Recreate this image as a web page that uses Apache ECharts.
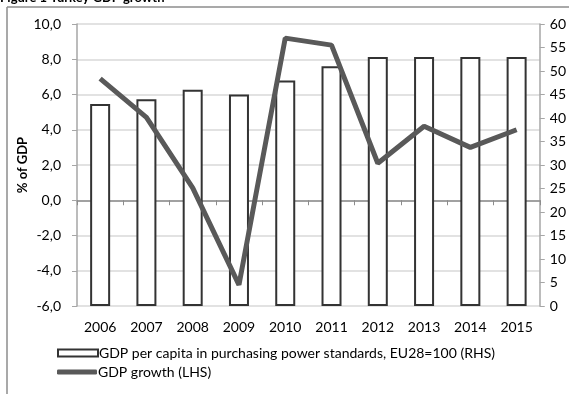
<!DOCTYPE html>
<html>
<head>
<meta charset="utf-8">
<script src="https://cdn.jsdelivr.net/npm/echarts@6/dist/echarts.min.js"></script>
<style>
  html, body { margin: 0; padding: 0; background: #fff; }
  #chart { width: 569px; height: 394px; }
</style>
</head>
<body>
<div id="chart"></div>
<script>
// Turkey: GDP growth and GDP per capita in PPS
const years = ['2006', '2007', '2008', '2009', '2010', '2011', '2012', '2013', '2014', '2015'];
const gdpPerCapitaPPS = [43, 44, 46, 45, 48, 51, 53, 53, 53, 53];   // EU28 = 100 (right axis)
const gdpGrowth = [6.9, 4.7, 0.7, -4.8, 9.2, 8.8, 2.1, 4.2, 3.0, 4.0]; // % (left axis)

const barName = 'GDP per capita in purchasing power standards, EU28=100 (RHS)';
const lineName = 'GDP growth (LHS)';

const FONT = 'Lato, "Open Sans", sans-serif';
const fmtComma = v => v.toFixed(1).replace('.', ',');

const chart = echarts.init(document.getElementById('chart'), null, { renderer: 'canvas' });

chart.setOption({
  animation: false,
  textStyle: { fontFamily: FONT },
  grid: { left: 77, right: 23, top: 24, bottom: 88, containLabel: false },
  xAxis: [
    {
      type: 'category',
      data: years,
      position: 'bottom',
      axisLine: { show: false, onZero: false },
      axisTick: { show: false },
      axisLabel: { color: '#000', fontSize: 14, fontFamily: FONT, margin: 14 }
    },
    {
      type: 'category',
      data: years,
      position: 'bottom',
      axisLine: { show: true, onZero: true, onZeroAxisIndex: 0, lineStyle: { color: '#8c8c8c', width: 1.5 } },
      axisTick: { show: true, length: 5, lineStyle: { color: '#8c8c8c' } },
      axisLabel: { show: false }
    }
  ],
  yAxis: [
    {
      type: 'value',
      min: -6, max: 10, interval: 2,
      name: '% of GDP',
      nameLocation: 'middle',
      nameGap: 48,
      nameMoveOverlap: false,
      nameRotate: 90,
      nameTextStyle: { fontWeight: 'bold', fontSize: 13, color: '#000', fontFamily: FONT },
      axisLine: { show: true, lineStyle: { color: '#a6a6a6', width: 1.5 } },
      axisTick: { show: true, length: 5, lineStyle: { color: '#a6a6a6' } },
      axisLabel: { color: '#000', fontSize: 14, margin: 16, formatter: fmtComma, fontFamily: FONT },
      splitLine: { show: true, lineStyle: { color: '#d9d9d9', width: 1.5 } }
    },
    {
      type: 'value',
      min: 0, max: 60, interval: 5,
      position: 'right',
      axisLine: { show: true, lineStyle: { color: '#a6a6a6', width: 1.5 } },
      axisTick: { show: true, length: 5, lineStyle: { color: '#a6a6a6' } },
      axisLabel: { color: '#000', fontSize: 14, margin: 10, fontFamily: FONT },
      splitLine: { show: false }
    }
  ],
  legend: [
    {
      orient: 'vertical',
      left: 52, top: 341,
      itemWidth: 40, itemHeight: 7,
      textStyle: { color: '#000', fontSize: 14, fontFamily: FONT, padding: [0, 0, 0, -4] },
      data: [{ name: barName, icon: 'rect', itemStyle: { color: '#fff', borderColor: '#333', borderWidth: 2 } }]
    },
    {
      orient: 'vertical',
      left: 52, top: 360,
      itemWidth: 40, itemHeight: 5,
      textStyle: { color: '#000', fontSize: 14, fontFamily: FONT, padding: [0, 0, 0, -4] },
      data: [{ name: lineName, icon: 'roundRect', itemStyle: { color: '#595959' } }]
    }
  ],
  series: [
    {
      name: barName,
      type: 'bar',
      xAxisIndex: 0,
      yAxisIndex: 1,
      data: gdpPerCapitaPPS,
      barWidth: 20,
      itemStyle: { color: '#fff', borderColor: '#333', borderWidth: 2 },
      z: 2
    },
    {
      name: lineName,
      type: 'line',
      xAxisIndex: 0,
      yAxisIndex: 0,
      data: gdpGrowth,
      symbol: 'none',
      lineStyle: { color: '#595959', width: 5 },
      itemStyle: { color: '#595959' },
      z: 3
    }
  ],
  graphic: [
    // outer frame (top and left edges)
    { type: 'line', shape: { x1: 7, y1: 7, x2: 569, y2: 7 }, style: { stroke: '#8c8c8c', lineWidth: 1.5 } },
    { type: 'line', shape: { x1: 7, y1: 7, x2: 7, y2: 394 }, style: { stroke: '#8c8c8c', lineWidth: 1.5 } },
    // heading
    { type: 'text', left: 0, top: -9, style: { text: 'Figure 1 Turkey GDP growth', font: 'bold 13px ' + FONT, fill: '#000' } }
  ]
});
</script>
</body>
</html>
